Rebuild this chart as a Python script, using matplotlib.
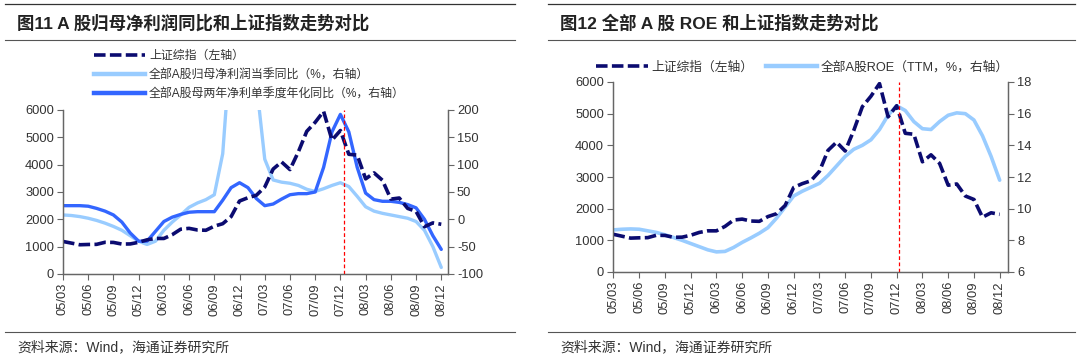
import matplotlib
matplotlib.use('Agg')
import matplotlib.pyplot as plt
from matplotlib.lines import Line2D
import numpy as np

plt.rcParams['font.family'] = ['Liberation Sans', 'Noto Sans CJK SC']
plt.rcParams['axes.unicode_minus'] = False

# monthly points, 2005/03 .. 2008/12
months = ['05/03', '05/04', '05/05', '05/06', '05/07', '05/08', '05/09', '05/10', '05/11', '05/12',
          '06/01', '06/02', '06/03', '06/04', '06/05', '06/06', '06/07', '06/08', '06/09', '06/10',
          '06/11', '06/12', '07/01', '07/02', '07/03', '07/04', '07/05', '07/06', '07/07', '07/08',
          '07/09', '07/10', '07/11', '07/12', '08/01', '08/02', '08/03', '08/04', '08/05', '08/06',
          '08/07', '08/08', '08/09', '08/10', '08/11', '08/12']

# 上证综指
sh_index = [1190, 1130, 1070, 1080, 1085, 1160, 1155, 1095, 1100, 1160,
            1250, 1300, 1300, 1440, 1640, 1670, 1610, 1600, 1750, 1840,
            2100, 2670, 2790, 2880, 3180, 3840, 4100, 3820, 4470, 5220,
            5550, 5950, 4900, 5250, 4380, 4350, 3480, 3700, 3430, 2740,
            2780, 2400, 2290, 1730, 1870, 1820]

# 全部A股归母净利润当季同比 (%)
profit_q = [8, 7, 5, 2, -2, -7, -13, -20, -30, -40,
            -46, -40, -20, -5, 8, 22, 30, 36, 45, 120,
            330, 450, 400, 250, 110, 72, 68, 66, 62, 55,
            51, 56, 62, 67, 60, 42, 23, 15, 11, 8,
            5, 2, -4, -20, -50, -88]

# 全部A股母两年净利单季度年化同比 (%)
profit_2y = [25, 25, 25, 24, 20, 15, 8, -5, -25, -40,
             -40, -22, -4, 4, 9, 13, 14, 14, 14, 35,
             58, 67, 58, 38, 25, 28, 37, 45, 47, 47,
             50, 95, 160, 192, 160, 95, 48, 36, 33, 33,
             31, 27, 21, 0, -30, -55]

# 全部A股ROE (TTM, %)
roe = [8.66, 8.7, 8.72, 8.7, 8.6, 8.5, 8.35, 8.18, 8.0, 7.8,
       7.6, 7.4, 7.27, 7.3, 7.55, 7.87, 8.15, 8.45, 8.8, 9.4,
       10.1, 10.8, 11.1, 11.35, 11.6, 12.1, 12.7, 13.3, 13.75, 14.0,
       14.35, 15.0, 15.9, 16.5, 16.2, 15.5, 15.05, 15.0, 15.5, 15.9,
       16.05, 16.0, 15.6, 14.6, 13.3, 11.8]

x = np.arange(len(months))
tick_pos = x[::3]
tick_lab = months[::3]

NAVY = '#0b0b70'
LIGHT = '#99ccff'
BLUE = '#3366ff'
TXT = '#333333'
SPINE = '#666666'
dash = (3.2, 1.2)

fig = plt.figure(figsize=(10.8, 3.59), dpi=100)


def style_axes(ax, ax2):
    for a in (ax, ax2):
        a.spines['top'].set_visible(False)
        for s in ('left', 'right', 'bottom'):
            a.spines[s].set_color(SPINE)
            a.spines[s].set_linewidth(0.9)
        a.tick_params(direction='out', length=4, width=0.8, color=SPINE,
                      labelsize=9.3, labelcolor=TXT, pad=2.5)
    ax.set_xticks(tick_pos)
    ax.set_xticklabels(tick_lab, rotation=90)


def frame_lines(x0, x1, title):
    fig.add_artist(Line2D([x0, x1], [1 - 4 / 359, 1 - 4 / 359], color='#333333', lw=0.9))
    fig.add_artist(Line2D([x0, x1], [1 - 40 / 359, 1 - 40 / 359], color='#555555', lw=0.8))
    fig.add_artist(Line2D([x0, x1], [1 - 332 / 359, 1 - 332 / 359], color='#555555', lw=0.8))
    fig.text(x0 + 12 / 1080, 1 - 23 / 359, title, fontsize=12.5, fontweight='bold',
             color='#222222', va='center', ha='left')
    fig.text(x0 + 12 / 1080, 1 - 347 / 359, '资料来源：Wind，海通证券研究所', fontsize=10,
             color='#333333', va='center', ha='left')


# ---------------- left chart ----------------
axL = fig.add_axes([63 / 1080, 1 - 274 / 359, (448 - 63) / 1080, (274 - 110) / 359])
axL2 = axL.twinx()
axL2.plot(x, profit_q, color=LIGHT, lw=2.4, solid_capstyle='round')
axL2.plot(x, profit_2y, color=BLUE, lw=2.4, solid_capstyle='round')
axL.plot(x, sh_index, color=NAVY, lw=2.6, linestyle=(0, dash))
axL.axvline(33.4, color='red', lw=0.9, linestyle=(0, (3, 2)))
axL.set_zorder(axL2.get_zorder() + 1)
axL.patch.set_visible(False)
axL.set_xlim(0, 45.8)
axL.set_ylim(0, 6000)
axL.set_yticks(range(0, 6001, 1000))
axL2.set_ylim(-100, 200)
axL2.set_yticks(range(-100, 201, 50))
style_axes(axL, axL2)
frame_lines(5 / 1080, 515 / 1080, '图11 A 股归母净利润同比和上证指数走势对比')

hL = [Line2D([], [], color=NAVY, lw=2.6, linestyle=(0, dash)),
      Line2D([], [], color=LIGHT, lw=3.2),
      Line2D([], [], color=BLUE, lw=3.2)]
fig.legend(hL, ['上证综指（左轴）', '全部A股归母净利润当季同比（%，右轴）',
                '全部A股母两年净利单季度年化同比（%，右轴）'],
           loc='upper left', bbox_to_anchor=(88 / 1080, 1 - 44 / 359), frameon=False,
           fontsize=8.6, handlelength=4.3, handletextpad=0.3, labelspacing=0.6,
           labelcolor=TXT, borderpad=0)

# ---------------- right chart ----------------
axR = fig.add_axes([613 / 1080, 1 - 272 / 359, (1008 - 613) / 1080, (272 - 82) / 359])
axR2 = axR.twinx()
axR2.plot(x, roe, color=LIGHT, lw=2.6, solid_capstyle='round')
axR.plot(x, sh_index, color=NAVY, lw=2.6, linestyle=(0, dash))
axR.axvline(33.3, color='red', lw=0.9, linestyle=(0, (3, 2)))
axR.set_zorder(axR2.get_zorder() + 1)
axR.patch.set_visible(False)
axR.set_xlim(-0.05, 45.97)
axR.set_ylim(0, 6000)
axR.set_yticks(range(0, 6001, 1000))
axR2.set_ylim(6, 18)
axR2.set_yticks(range(6, 19, 2))
style_axes(axR, axR2)
frame_lines(548 / 1080, 1075 / 1080, '图12 全部 A 股 ROE 和上证指数走势对比')

hR = [Line2D([], [], color=NAVY, lw=2.6, linestyle=(0, dash)),
      Line2D([], [], color=LIGHT, lw=3.2)]
fig.legend(hR, ['上证综指（左轴）', '全部A股ROE（TTM，%，右轴）'],
           loc='upper left', bbox_to_anchor=(590 / 1080, 1 - 55 / 359), frameon=False,
           fontsize=9.2, handlelength=4.0, handletextpad=0.3, ncol=2, columnspacing=1.0,
           labelcolor=TXT, borderpad=0)

fig.savefig('out.png', dpi=100)
